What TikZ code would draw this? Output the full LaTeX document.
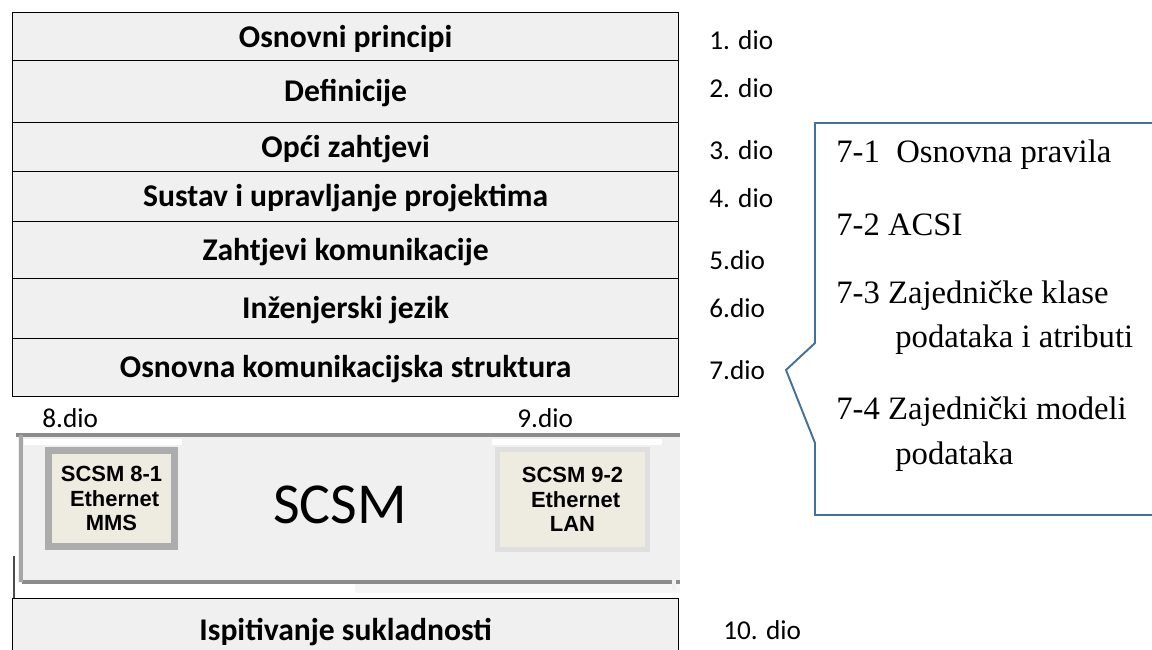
\documentclass[tikz,border=0pt]{standalone}
\usepackage{fontspec}
\setmainfont{Carlito}
\newfontfamily\callfont{Liberation Serif}
\newfontfamily\boxfont{Liberation Sans}
\definecolor{rowgray}{HTML}{F0F0F0}
\definecolor{framegray}{HTML}{8C8C8C}
\definecolor{beige}{HTML}{EEEBE0}
\definecolor{callblue}{HTML}{41719C}
\tikzset{
  row/.style={draw=black, line width=0.8pt, fill=rowgray, anchor=north west,
    minimum width=13.32cm, inner sep=0pt, font=\fontsize{18}{21}\selectfont\bfseries,
    text height=11.6pt, text depth=0pt},
  part/.style={anchor=west, inner sep=0pt, font=\fontsize{15.5}{18}\selectfont},
  item/.style={anchor=west, inner sep=0pt, font=\callfont\fontsize{18.6}{22}\selectfont},
  comm/.style={line width=3.5pt, fill=beige, align=center, inner sep=0pt,
    font=\boxfont\fontsize{12.5}{14}\selectfont\bfseries}
}

\begin{document}
\begin{tikzpicture}[x=0.02cm, y=-0.02cm]
  \useasboundingbox (0,0) rectangle (1152,649);

  % stack of parts
  \node[row, minimum height=0.98cm] (p1) at (12,12)  {Osnovni principi};
  \node[row, minimum height=1.24cm] (p2) at (12,60)  {Definicije};
  \node[row, minimum height=0.98cm] (p3) at (12,122) {Opći zahtjevi};
  \node[row, minimum height=1.00cm] (p4) at (12,171) {Sustav i upravljanje projektima};
  \node[row, minimum height=1.14cm] (p5) at (12,221) {Zahtjevi komunikacije};
  \node[row, minimum height=1.20cm] (p6) at (12,278) {Inženjerski jezik};
  \node[row, minimum height=1.16cm] (p7) at (12,338) {Osnovna komunikacijska struktura};

  \node[part] (d1) at (709,40)  {1. dio};
  \node[part] (d2) at (709,88)  {2. dio};
  \node[part] (d3) at (709,150) {3. dio};
  \node[part] (d4) at (709,198) {4. dio};
  \node[part] (d5) at (709,260) {5.dio};
  \node[part] (d6) at (709,308) {6.dio};
  \node[part] (d7) at (709,370) {7.dio};

  % SCSM frame
  \fill[rowgray] (18,435) rectangle (680,583);
  \fill[white] (24,439) rectangle (182,445);
  \fill[white] (492,439) rectangle (662,445);
  \fill[rowgray!60] (355,584) rectangle (680,593);
  \draw[framegray, line width=2pt] (16,435) -- (680,435);
  \draw[framegray, line width=2pt] (22,582) -- (680,582);
  \draw[gray!70, line width=2.5pt] (21,435) -- (21,582);
  \draw[gray!12, line width=2pt] (674,440) -- (674,590);
  \draw[black!70, line width=0.6pt] (14,556) -- (14,598);

  \node[part] (d8) at (42,418)  {8.dio};
  \node[part] (d9) at (517,418) {9.dio};

  \node[comm, draw=gray!65, minimum width=2.52cm, minimum height=1.92cm] (s81)
    at (111.5,498.5) {SCSM 8-1\\\ Ethernet\\MMS};
  \node[comm, draw=gray!25, line width=2.5pt, minimum width=3.0cm, minimum height=2.0cm] (s92)
    at (572.5,499.5) {SCSM 9-2\\\ Ethernet\\LAN};
  \node[font=\fontsize{33}{36}\selectfont] (scsm) at (340,505) {SCSM};

  \node[row, minimum height=1.28cm] (p10) at (12,598) {Ispitivanje sukladnosti};
  \node[part] (d10) at (723,630) {10. dio};

  % callout for part 7
  \draw[callblue, line width=1.1pt, line join=miter]
    (1152,123) -- (815,123) -- (815,343) -- (786,370) -- (815,443) -- (815,515) -- (1152,515);
  \node[item] (c1) at (836,155) {7-1~~Osnovna pravila};
  \node[item] (c2) at (836,225) {7-2 ACSI};
  \node[item] (c3) at (836,296) {7-3 Zajedničke klase};
  \node[item] (c3b) at (895,340) {podataka i atributi};
  \node[item] (c4) at (836,412) {7-4 Zajednički modeli};
  \node[item] (c4b) at (895,457) {podataka};
\end{tikzpicture}
\end{document}
